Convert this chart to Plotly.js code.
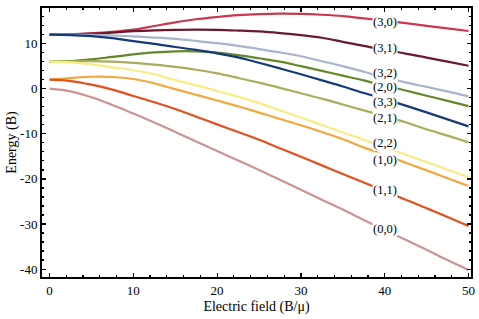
<!DOCTYPE html>
<html><head><meta charset="utf-8">
<script src="https://cdn.plot.ly/plotly-3.0.1.min.js"></script>
<style>html,body{margin:0;padding:0;background:#fff}#chart{width:479px;height:319px}</style>
</head><body><div id="chart"></div>
<script>
const field = [0,2.5,5,7.5,10,12.5,15,17.5,20,22.5,25,27.5,30,32.5,35,37.5,40,42.5,45,47.5,50];
const e30 = [12,12.07,12.28,12.6,13.1,13.9,14.7,15.4,15.9,16.3,16.55,16.65,16.6,16.4,16.1,15.6,15.1,14.55,13.95,13.4,12.8];
const e31 = [12,12.05,12.2,12.45,12.75,12.95,13.05,13.1,13.05,12.9,12.7,12.35,11.9,11.3,10.4,9.5,8.6,7.8,6.9,6.0,5.1];
const e32 = [12,12,11.95,11.8,11.6,11.35,11.05,10.6,10.1,9.5,8.8,8.05,7.2,6.1,5.0,3.75,2.5,1.4,0.4,-0.6,-1.7];
const e20 = [6,6.12,6.5,7.05,7.6,8.05,8.3,8.3,8.0,7.45,6.75,6.0,5.0,3.95,2.9,1.85,0.7,-0.4,-1.55,-2.7,-3.85];
const e33 = [12,11.9,11.65,11.2,10.55,9.95,9.25,8.6,7.85,6.95,5.75,4.5,3.2,1.85,0.5,-0.95,-2.3,-3.75,-5.25,-6.8,-8.35];
const e21 = [6,6.05,6.1,6.0,5.75,5.35,4.85,4.2,3.4,2.4,1.35,0.2,-1.0,-2.2,-3.5,-4.8,-6.1,-7.45,-9.0,-10.4,-11.9];
const e22 = [6,5.85,5.4,4.75,4.1,3.2,1.9,0.75,-0.5,-1.75,-3.2,-4.8,-6.4,-8.05,-9.7,-11.3,-12.95,-14.6,-16.25,-17.95,-19.65];
const e10 = [2,2.35,2.65,2.6,2.15,1.2,-0.1,-1.35,-2.6,-3.9,-5.3,-6.7,-8.1,-9.6,-11.2,-13.0,-14.7,-16.4,-18.1,-19.85,-21.55];
const e11 = [2,1.7,0.9,-0.2,-1.6,-3.0,-4.5,-6.2,-7.9,-9.6,-11.3,-13.2,-15.1,-17.0,-18.9,-20.8,-22.7,-24.6,-26.5,-28.45,-30.45];
const e00 = [0,-0.6,-1.9,-3.6,-5.5,-7.5,-9.6,-11.7,-13.8,-15.9,-18.0,-20.2,-22.4,-24.6,-26.8,-29.1,-31.3,-33.5,-35.7,-38.0,-40.2];

const stateNames = ["(3,0)","(3,1)","(3,2)","(2,0)","(3,3)","(2,1)","(2,2)","(1,0)","(1,1)","(0,0)"];
const labelX = 40;
const labelY = [14.9,8.95,3.55,0.45,-2.9,-6.6,-12.1,-15.8,-22.4,-31.2];
const yTickVals = [-40,-30,-20,-10,0,10];
const yTickText = ["-40","-30","-20","-10","0","10"];

const series = [e30,e31,e32,e20,e33,e21,e22,e10,e11,e00];
const colors = ["#C9384F","#6A1A2C","#AAB3CD","#63882A","#143A78","#A9AD5C","#F8EC84","#F4A73C","#E1501E","#CD9393"];

const traces = series.map((ys,i)=>({
  x: field, y: ys, type:'scatter', mode:'lines', name: stateNames[i],
  line:{color:colors[i], width:2.2, shape:'spline', smoothing:1.0},
  hoverinfo:'skip'
}));

const fam = 'Liberation Serif';
const labelFont = {family:fam, size:12.5, color:'#000'};
const tickFont = {family:fam, size:13, color:'#000'};
const titleFont = {family:fam, size:14, color:'#000'};
const annotations = stateNames.map((s,i)=>({
  x: labelX, y: labelY[i], xref:'x', yref:'y', text: s, showarrow:false,
  bgcolor:'#fff', borderpad:0, font: labelFont
}));

const layout = {
  width:479, height:319,
  margin:{l:42,r:8,t:8,b:42},
  paper_bgcolor:'#fff', plot_bgcolor:'#fff',
  showlegend:false,
  font: tickFont,
  xaxis:{
    range:[-0.9,50.3], showgrid:false, zeroline:false,
    showline:true, linecolor:'#000', linewidth:2, mirror:'allticks',
    ticks:'inside', ticklen:4, tickwidth:1.2, tickcolor:'#000',
    tickvals:[0,10,20,30,40,50],
    minor:{ticks:'inside', dtick:2, ticklen:2, tickwidth:1.2, tickcolor:'#000', showgrid:false},
    tickfont: tickFont,
    title:{text:'Electric field (B/μ)', font: titleFont, standoff:5}
  },
  yaxis:{
    range:[-41.75,17.9], showgrid:false, zeroline:false,
    showline:true, linecolor:'#000', linewidth:2, mirror:'allticks',
    ticks:'inside', ticklen:4, tickwidth:1.2, tickcolor:'#000',
    tickvals: yTickVals, ticktext: yTickText,
    minor:{ticks:'inside', dtick:2, ticklen:2, tickwidth:1.2, tickcolor:'#000', showgrid:false},
    tickfont: tickFont,
    title:{text:'Energy (B)', font: titleFont, standoff:0}
  },
  annotations: annotations
};

Plotly.newPlot('chart', traces, layout, {staticPlot:true, displayModeBar:false});
</script>
</body></html>
